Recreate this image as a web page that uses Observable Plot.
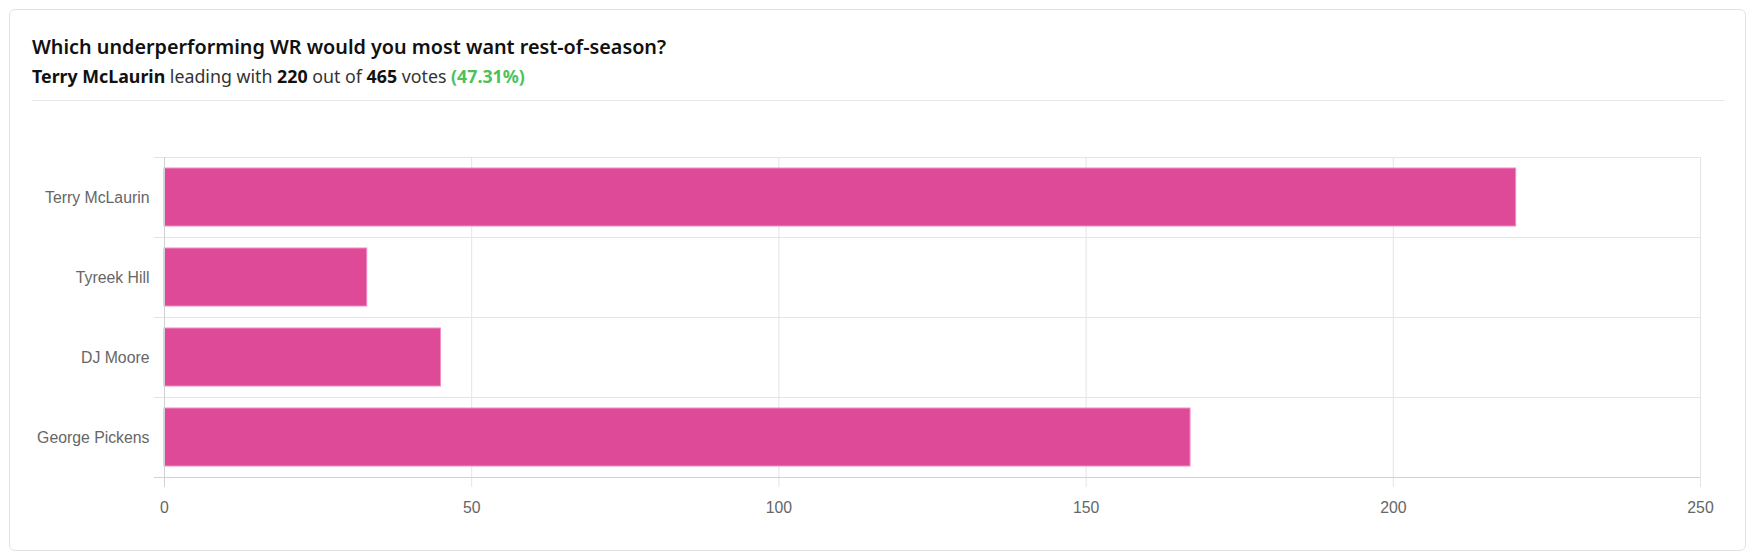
<!DOCTYPE html>
<html>
<head>
<meta charset="utf-8">
<script src="https://cdn.jsdelivr.net/npm/d3@7"></script>
<script src="https://cdn.jsdelivr.net/npm/@observablehq/plot@0.6"></script>
<style>
  html, body { margin: 0; padding: 0; background: #fff; width: 1754px; height: 556px; overflow: hidden; }
  #card { position: absolute; left: 9px; top: 9px; width: 1737px; height: 542px; box-sizing: border-box;
          border: 1px solid #e3e3e3; border-radius: 6px; }
  #title { position: absolute; left: 32px; top: 35px; line-height: 24px; font-family: "Noto Sans", sans-serif;
           font-size: 19.8px; font-weight: 600; color: #111; white-space: nowrap; }
  #subtitle { position: absolute; left: 32px; top: 65px; line-height: 22px; font-family: "Noto Sans", sans-serif;
              font-size: 17.8px; color: #333; white-space: nowrap; }
  #subtitle b { color: #111; font-weight: 700; }
  #subtitle .pct { color: #4cc15c; font-weight: 700; }
  #sep { position: absolute; left: 32px; top: 100px; width: 1692px; height: 1px; background: #e6e6e6; }
  #chart { position: absolute; left: 0; top: 100px; }
</style>
</head>
<body>
<div id="card"></div>
<div id="title">Which underperforming WR would you most want rest-of-season?</div>
<div id="subtitle"><b>Terry McLaurin</b> leading with <b>220</b> out of <b>465</b> votes <span class="pct">(47.31%)</span></div>
<div id="sep"></div>
<div id="chart"></div>
<script>
const names = ["Terry McLaurin", "Tyreek Hill", "DJ Moore", "George Pickens"];
const votes = [220, 33, 45, 167];
const xTicks = [0, 50, 100, 150, 200, 250];

const data = names.map((n, i) => ({name: n, votes: votes[i]}));

const W = 1754, H = 440, mT = 57, mB = 63, mL = 164, mR = 54;
const step = (H - mT - mB) / names.length;

const chart = Plot.plot({
  width: W,
  height: H,
  marginTop: mT,
  marginBottom: mB,
  marginLeft: mL,
  marginRight: mR,
  style: {fontFamily: "'Liberation Sans', Arial, sans-serif", fontSize: "15.8px", background: "transparent"},
  x: {domain: [0, 250]},
  y: {domain: names, paddingInner: 0.28, paddingOuter: 0.14},
  marks: [
    Plot.ruleX(xTicks.slice(1), {x: d => d, stroke: "#e4e4e4", strokeOpacity: 1, insetBottom: -10}),
    Plot.ruleY(names, {y: d => d, dy: -step / 2, stroke: "#e4e4e4", strokeOpacity: 1, insetLeft: -10}),
    Plot.barX(data, {x: "votes", y: "name", fill: "#df4a98", stroke: "#f28ec4", strokeWidth: 1}),
    Plot.ruleY([names[names.length - 1]], {y: d => d, dy: step / 2, stroke: "#d2d2d2", strokeOpacity: 1, insetLeft: -10}),
    Plot.ruleX([0], {x: d => d, stroke: "#d2d2d2", strokeOpacity: 1, insetBottom: -10}),
    Plot.axisY({tickSize: 0, tickPadding: 15, color: "#666", label: null}),
    Plot.axisX({ticks: xTicks, tickSize: 0, tickPadding: 24, color: "#666", label: null})
  ]
});
document.getElementById("chart").appendChild(chart);
</script>
</body>
</html>
